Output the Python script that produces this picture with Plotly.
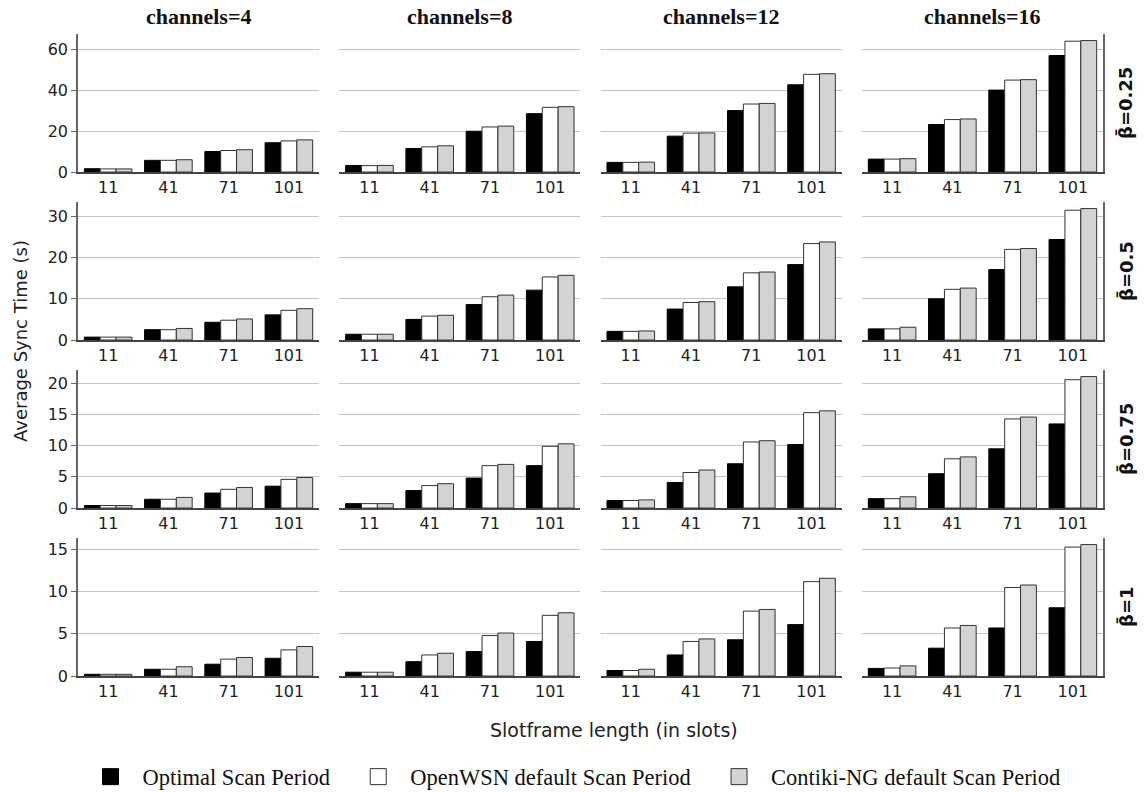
import plotly.graph_objects as go
from plotly.subplots import make_subplots

slotframes = ["11", "41", "71", "101"]
channels = [4, 8, 12, 16]
beta_labels = ["β̄=0.25", "β̄=0.5", "β̄=0.75", "β̄=1"]
series_names = ["Optimal Scan Period", "OpenWSN default Scan Period", "Contiki-NG default Scan Period"]

# Values: 4 channel groups (4, 8, 12, 16) x 4 slotframe lengths (11, 41, 71, 101)
optimal_b025 = [1.6, 5.7, 10.0, 14.3,  3.2, 11.5, 19.9, 28.5,  4.7, 17.5, 30.0, 42.6,  6.3, 23.2, 40.0, 56.9]
openwsn_b025 = [1.5, 5.7, 10.5, 15.2,  3.1, 12.3, 22.0, 31.6,  4.7, 19.0, 33.2, 47.7,  6.3, 25.6, 44.9, 63.9]
contiki_b025 = [1.5, 6.0, 10.9, 15.7,  3.2, 12.8, 22.4, 31.9,  4.8, 19.1, 33.5, 48.0,  6.5, 25.9, 45.1, 64.2]

optimal_b050 = [0.7, 2.5, 4.3, 6.1,  1.4, 5.0, 8.6, 12.1,  2.1, 7.5, 12.9, 18.3,  2.7, 10.0, 17.1, 24.4]
openwsn_b050 = [0.7, 2.5, 4.8, 7.2,  1.4, 5.8, 10.5, 15.3,  2.1, 9.1, 16.3, 23.4,  2.7, 12.3, 22.0, 31.5]
contiki_b050 = [0.7, 2.8, 5.1, 7.6,  1.4, 6.0, 10.9, 15.7,  2.2, 9.3, 16.5, 23.8,  3.1, 12.6, 22.2, 31.9]

optimal_b075 = [0.4, 1.4, 2.4, 3.5,  0.7, 2.8, 4.8, 6.8,  1.2, 4.1, 7.1, 10.2,  1.5, 5.5, 9.5, 13.5]
openwsn_b075 = [0.4, 1.4, 3.0, 4.6,  0.7, 3.6, 6.8, 9.9,  1.2, 5.7, 10.6, 15.3,  1.5, 7.9, 14.3, 20.6]
contiki_b075 = [0.4, 1.7, 3.3, 4.9,  0.7, 3.9, 7.0, 10.3,  1.3, 6.1, 10.8, 15.6,  1.8, 8.2, 14.6, 21.1]

optimal_b100 = [0.2, 0.8, 1.4, 2.1,  0.45, 1.7, 2.9, 4.1,  0.65, 2.5, 4.3, 6.1,  0.9, 3.3, 5.7, 8.1]
openwsn_b100 = [0.2, 0.8, 2.0, 3.1,  0.45, 2.5, 4.8, 7.2,  0.65, 4.1, 7.7, 11.2,  0.95, 5.7, 10.5, 15.3]
contiki_b100 = [0.2, 1.1, 2.2, 3.5,  0.45, 2.7, 5.1, 7.5,  0.8, 4.4, 7.9, 11.6,  1.2, 6.0, 10.8, 15.6]

row_series = [
    [optimal_b025, openwsn_b025, contiki_b025],
    [optimal_b050, openwsn_b050, contiki_b050],
    [optimal_b075, openwsn_b075, contiki_b075],
    [optimal_b100, openwsn_b100, contiki_b100],
]
row_ticks = [[0, 20, 40, 60], [0, 10, 20, 30], [0, 5, 10, 15, 20], [0, 5, 10, 15]]

fills = ["#000000", "#ffffff", "#d3d3d3"]
edges = ["#000000", "#333333", "#333333"]

W, H = 1145, 792
ML, MR, MT, MB = 78, 42, 34, 116
PW, PH = W - ML - MR, H - MT - MB
hgap, vgap = 20.3, 30

fig = make_subplots(rows=4, cols=4, shared_yaxes="rows",
                    horizontal_spacing=hgap / PW, vertical_spacing=vgap / PH)

for r in range(4):
    for c in range(4):
        for s in range(3):
            vals = row_series[r][s][c * 4:(c + 1) * 4]
            fig.add_trace(go.Bar(
                x=slotframes, y=vals, name=series_names[s],
                marker=dict(color=fills[s], line=dict(color=edges[s], width=1)),
                showlegend=False, offsetgroup=str(s),
            ), row=r + 1, col=c + 1)

# legend entries
pad = ["\u00a0" * 2, "\u00a0" * 2, ""]
for s in range(3):
    fig.add_trace(go.Scatter(
        x=[None], y=[None], mode="markers", name=series_names[s] + pad[s],
        marker=dict(symbol="square", size=16, color=fills[s],
                    line=dict(color=edges[s], width=1)),
        showlegend=True,
    ), row=1, col=1)

for r in range(4):
    ymax = max(max(v) for v in row_series[r]) * 1.05
    for c in range(4):
        fig.update_yaxes(
            range=[0, ymax], tickvals=row_ticks[r], showgrid=True, automargin=False,
            gridcolor="#c4c4c4", gridwidth=1, zeroline=False,
            showline=(c == 0 or c == 3), linecolor="#666666", linewidth=1.5,
            side="right" if c == 3 else "left",
            ticks="outside" if c == 0 else "", ticklen=5, tickcolor="#666666",
            showticklabels=(c == 0),
            tickfont=dict(family="DejaVu Sans", size=16, color="#222222"),
            row=r + 1, col=c + 1)
        fig.update_xaxes(
            showline=True, linecolor="#444444", linewidth=1.5, ticks="", automargin=False,
            showgrid=False, tickfont=dict(family="DejaVu Sans", size=16, color="#222222"),
            row=r + 1, col=c + 1)

annotations = []
for c in range(4):
    x0 = c * (PW - 3 * hgap) / 4 / PW + c * hgap / PW
    xc = x0 + (PW - 3 * hgap) / 8 / PW
    annotations.append(dict(text="<b>channels=%d</b>" % channels[c], x=xc, y=(PH + MT - 16) / PH,
                            xref="paper", yref="paper", showarrow=False,
                            xanchor="center", yanchor="middle",
                            font=dict(family="Liberation Serif", size=22, color="#111111")))
for r in range(4):
    yc_px = r * (138 + vgap) + 69
    annotations.append(dict(text="<b>%s</b>" % beta_labels[r], x=(1126 - ML) / PW, y=1 - yc_px / PH,
                            xref="paper", yref="paper", showarrow=False, textangle=-90,
                            xanchor="center", yanchor="middle",
                            font=dict(family="DejaVu Sans", size=18, color="#111111")))
annotations.append(dict(text="Average Sync Time (s)", x=(20 - ML) / PW, y=(676 - 341) / PH,
                        xref="paper", yref="paper", showarrow=False, textangle=-90,
                        xanchor="center", yanchor="middle",
                        font=dict(family="DejaVu Sans", size=18, color="#222222")))
annotations.append(dict(text="Slotframe length (in slots)", x=(614 - ML) / PW, y=(676 - 730) / PH,
                        xref="paper", yref="paper", showarrow=False,
                        xanchor="center", yanchor="middle",
                        font=dict(family="DejaVu Sans", size=19, color="#222222")))

fig.update_layout(
    width=W, height=H,
    margin=dict(l=ML, r=MR, t=MT, b=MB, autoexpand=False),
    plot_bgcolor="white", paper_bgcolor="white",
    barmode="group", bargap=0.21, bargroupgap=0,
    annotations=annotations,
    showlegend=True,
    legend=dict(orientation="h", x=572 / W, xanchor="center", xref="container",
                y=1 - 777 / H, yanchor="middle", yref="container",
                font=dict(family="Liberation Serif", size=22.5, color="#111111"),
                itemwidth=54, bgcolor="rgba(0,0,0,0)"),
)

fig.write_html("out.html", config={"displayModeBar": False},
               post_script="document.body.style.margin='0';document.body.style.overflow='hidden';")
